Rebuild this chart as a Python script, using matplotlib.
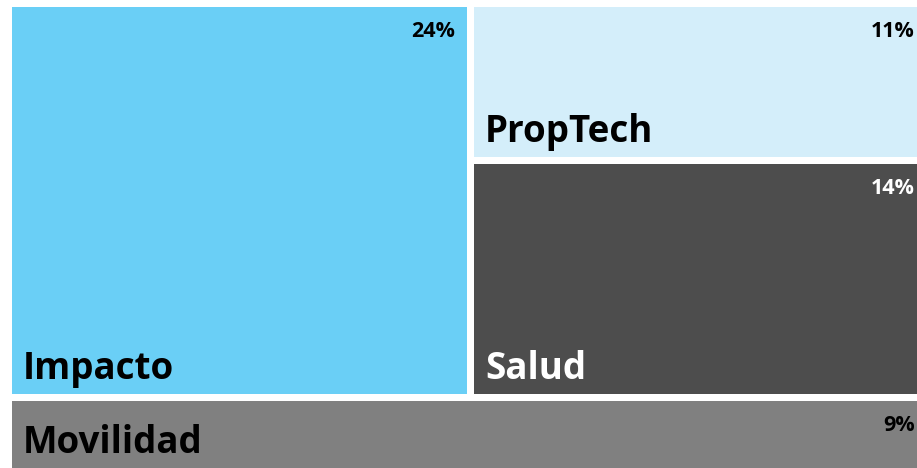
import matplotlib
matplotlib.use("Agg")
import matplotlib.pyplot as plt
from matplotlib.patches import Rectangle

# ---- data ----
labels = ["Impacto", "PropTech", "Salud", "Movilidad"]
share_pct = [24, 11, 14, 9]                 # percentages shown on tiles
tile_size = [24, 9.5, 14.4, 9]              # relative tile areas as drawn
tile_colors = ["#6ACFF6", "#D4EEFA", "#4D4D4D", "#808080"]
text_colors = ["black", "black", "white", "black"]

# ---- layout (pixel units of the visible frame) ----
W_PX, H_PX = 917, 468
GAP = 7
cx0, cy0 = 8.5, 3.5            # container origin (cropped view)
cW = 922.0                     # container width (extends past right edge)

total = sum(tile_size)
unit = 394.0 * cW / sum(tile_size[:3])    # px^2 per unit of size
cH = total * unit / cW

top_h = cH * sum(tile_size[:3]) / total
imp_w = cW * tile_size[0] / sum(tile_size[:3])
right_sum = tile_size[1] + tile_size[2]
prop_h = top_h * tile_size[1] / right_sum

cells = [
    (cx0, cy0, imp_w, top_h),
    (cx0 + imp_w, cy0, cW - imp_w, prop_h),
    (cx0 + imp_w, cy0 + prop_h, cW - imp_w, top_h - prop_h),
    (cx0, cy0 + top_h, cW, cH - top_h),
]

fig = plt.figure(figsize=(W_PX / 100, H_PX / 100), dpi=100)
ax = fig.add_axes([0, 0, 1, 1])
ax.set_xlim(0, W_PX)
ax.set_ylim(H_PX, 0)
ax.axis("off")

font = ["Open Sans", "DejaVu Sans"]
for (x, y, w, h), lab, pct, col, tcol in zip(cells, labels, share_pct, tile_colors, text_colors):
    rx, ry, rw, rh = x + GAP / 2, y + GAP / 2, w - GAP, h - GAP
    ax.add_patch(Rectangle((rx, ry), rw, rh, facecolor=col, edgecolor="none"))
    ax.text(rx + 11, ry + rh - 15, lab, color=tcol, fontsize=26.5, fontweight="bold",
            family=font, ha="left", va="baseline", clip_on=True)
    ax.text(rx + rw - 12, ry + 30, f"{pct}%", color=tcol, fontsize=15.5, fontweight="bold",
            family=font, ha="right", va="baseline", clip_on=True)

fig.savefig("out.png", dpi=100)
